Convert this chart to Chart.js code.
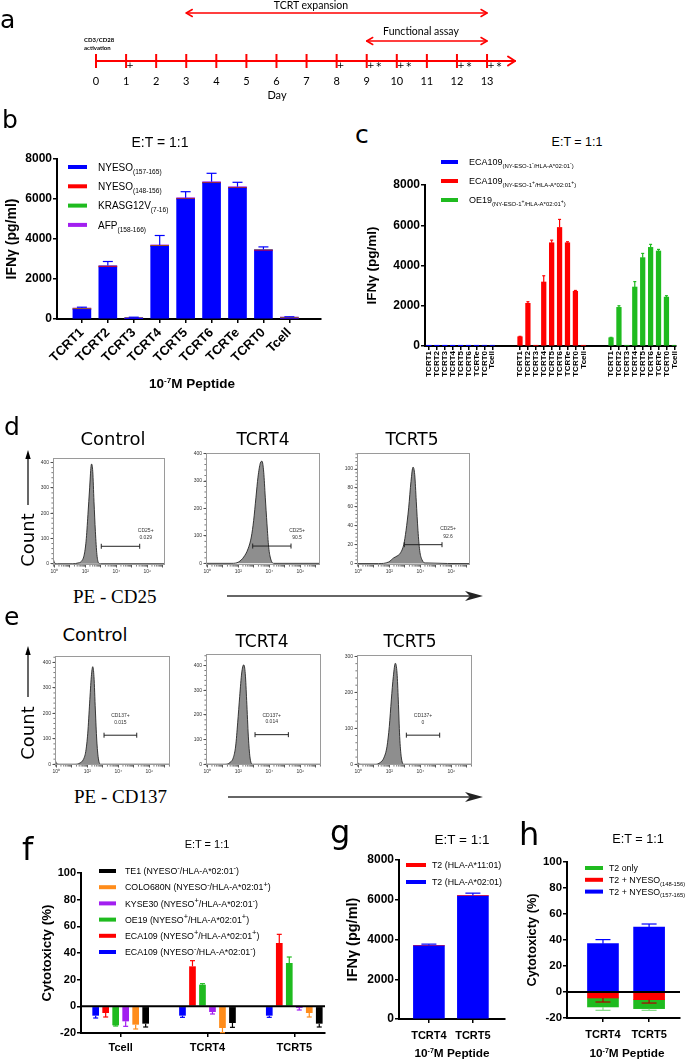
<!DOCTYPE html>
<html>
<head>
<meta charset="utf-8">
<title>TCRT figure</title>
<script src="https://cdn.jsdelivr.net/npm/chart.js@4.4.1/dist/chart.umd.min.js"></script>
<style>
  html, body { margin: 0; padding: 0; background: #fff; }
  body { position: relative; width: 685px; height: 1062px; overflow: hidden; }
  canvas { position: absolute; }
  .t { position: absolute; white-space: nowrap; line-height: 1; color: #000; }
  .t sup { font-size: 0.6em; position: relative; top: -0.55em; vertical-align: baseline; }
  svg { position: absolute; left: 0; top: 0; }
</style>
</head>
<body>
<svg width="685" height="1062">
  <g stroke="#000" stroke-width="1.2">
    <line x1="28" y1="505" x2="28" y2="456"/>
    <line x1="28" y1="697" x2="28" y2="652"/>
  </g>
  <g fill="#000">
    <polygon points="28,450 25.3,459 30.7,459"/>
    <polygon points="28,646 25.3,655 30.7,655"/>
  </g>
  <g stroke="#333" stroke-width="1.6">
    <line x1="227" y1="596" x2="472" y2="596"/>
    <line x1="228" y1="797" x2="472" y2="797"/>
  </g>
  <g fill="#222">
    <polygon points="483,596 465,591 470,596 465,601"/>
    <polygon points="483,797 465,792 470,797 465,802"/>
  </g>
</svg>
<script>
// ---- a: timeline
const days = [0, 1, 2, 3, 4, 5, 6, 7, 8, 9, 10, 11, 12, 13];
const plusDays = [1, 8, 9, 10, 12, 13];
const starDays = [9, 10, 12, 13];
const phaseNames = ['TCRT expansion', 'Functional assay'];
const phaseStart = [3, 9];
const phaseEnd = [13, 13];

// ---- b: IFNy by peptide
const tcrts = ['TCRT1', 'TCRT2', 'TCRT3', 'TCRT4', 'TCRT5', 'TCRT6', 'TCRTe', 'TCRT0', 'Tcell'];
const bNy157 = [480, 2600, 20, 3630, 5990, 6790, 6540, 3410, 30];
const bNy148 = [25, 30, 20, 30, 30, 30, 30, 30, 25];
const bKras = [15, 15, 15, 15, 15, 15, 15, 15, 15];
const bAfp = [30, 30, 25, 30, 30, 30, 30, 30, 30];
const bErr = [40, 200, 10, 470, 300, 420, 220, 120, 10];
const bSeries = ['NYESO_{(157-165)}', 'NYESO_{(148-156)}', 'KRASG12V_{(7-16)}', 'AFP_{(158-166)}'];

// ---- c: IFNy by target cell
const cEcaNeg = [10, 5, 5, 5, 5, 5, 20, 30, 30];
const cEcaPos = [460, 2120, 30, 3180, 5130, 5890, 5130, 2720, 30];
const cEcaPosErr = [20, 80, 0, 310, 130, 400, 50, 40, 0];
const cOe19 = [410, 1920, 30, 2930, 4390, 4900, 4720, 2430, 30];
const cOe19Err = [20, 80, 0, 270, 210, 150, 80, 70, 0];
const cSeries = ['ECA109_{(NY-ESO-1^{-}/HLA-A*02:01^{-})}', 'ECA109_{(NY-ESO-1^{+}/HLA-A*02:01^{+})}', 'OE19_{(NY-ESO-1^{+}/HLA-A*02:01^{+})}'];

// ---- d / e: flow histograms (x in decades, y in counts)
const histTicks = ['10⁰', '', '10²', '', '10⁴', '', '10⁶', ''];
const dCtrlX = [-0.08, 0.02, 0.2, 1.2, 1.53, 1.74, 1.92, 2.05, 2.17, 2.28, 2.37, 2.41, 2.48, 2.56, 2.65, 2.75, 2.86, 2.99, 7.1];
const dCtrlY = [22, 3, 0, 0, 3, 9, 33, 89, 194, 300, 385, 394, 365, 247, 128, 36, 3, 0, 0];
const dT4X = [-0.08, 1.59, 2.02, 2.35, 2.63, 2.84, 2.99, 3.14, 3.27, 3.42, 3.53, 3.64, 3.74, 3.85, 3.96, 4.09, 4.28, 7.25];
const dT4Y = [0, 0, 5, 23, 53, 96, 156, 241, 314, 365, 372, 332, 241, 144, 59, 16, 0, 0];
const dT5X = [-0.08, 1.31, 1.96, 2.28, 2.5, 2.71, 2.93, 3.08, 3.25, 3.4, 3.53, 3.64, 3.74, 3.85, 3.96, 4.11, 4.32, 7.2];
const dT5Y = [0, 0, 1.7, 6, 8, 11, 20, 35, 59, 87, 102, 94, 66, 35, 14, 4, 0.7, 0];
const dGateLo = [3.03, 2.93, 2.97];
const dGateHi = [5.51, 5.4, 5.4];
const dGateY = [69, 63, 20];
const dGatePct = ['0.029', '90.5', '92.6'];

const eCtrlX = [-0.08, 0.02, 0.2, 1.21, 1.53, 1.74, 1.9, 2.03, 2.15, 2.26, 2.35, 2.43, 2.52, 2.61, 2.71, 2.86, 7.3];
const eCtrlY = [17, 3, 0, 0, 5, 18, 50, 122, 240, 344, 383, 344, 213, 95, 24, 0, 0];
const eT4X = [-0.08, 1.14, 1.46, 1.68, 1.83, 1.96, 2.09, 2.22, 2.35, 2.45, 2.54, 2.65, 2.75, 2.9, 7.3];
const eT4Y = [0, 0, 7, 27, 74, 168, 275, 370, 403, 367, 259, 111, 30, 0, 0];
const eT5X = [-0.08, 0.02, 0.2, 1.1, 1.42, 1.64, 1.85, 2.0, 2.13, 2.26, 2.39, 2.5, 2.58, 2.67, 2.77, 2.93, 7.3];
const eT5Y = [8, 1, 0, 0, 5, 17, 49, 105, 179, 244, 281, 253, 179, 77, 21, 0, 0];
const eGateLo = [3.08, 3.08, 3.1];
const eGateHi = [5.19, 5.23, 5.25];
const eGateY = [114, 120, 81];
const eGatePct = ['0.015', '0.014', '0'];

// ---- f: cytotoxicity against cell lines
const fCats = ['Tcell', 'TCRT4', 'TCRT5'];
const fEcaNeg = [-7, -7, -7];          const fEcaNegErr = [1.75, 1.25, 1.25];
const fEcaPos = [-5, 30, 47.5];        const fEcaPosErr = [3, 4.25, 6.5];
const fOe19 = [-14.25, 16.25, 32.5];   const fOe19Err = [0.5, 0.75, 4.5];
const fKyse = [-11.25, -4.25, -1.25];  const fKyseErr = [3.75, 1.5, 1.5];
const fColo = [-13.75, -16.25, -5];    const fColoErr = [3.25, 3.5, 3];
const fTe1 = [-13, -12.5, -13];        const fTe1Err = [2.5, 3.25, 2.5];
const fSeries = ['ECA109 (NYESO^{-}/HLA-A*02:01^{-})', 'ECA109 (NYESO^{+}/HLA-A*02:01^{+})', 'OE19 (NYESO^{+}/HLA-A*02:01^{+})',
                 'KYSE30 (NYESO^{+}/HLA-A*02:01^{-})', 'COLO680N (NYESO^{-}/HLA-A*02:01^{+})', 'TE1 (NYESO^{-}/HLA-A*02:01^{-})'];

// ---- g: IFNy with T2
const gCats = ['TCRT4', 'TCRT5'];
const gA0201 = [3680, 6190];
const gA1101 = [20, 25];
const gErr = [67, 117];
const gSeries = ['T2 (HLA-A*02:01)', 'T2 (HLA-A*11:01)'];

// ---- h: cytotoxicity with T2
const h148 = [-4.6, -5.9];   const h148Err = [3.1, 2.6];
const hT2 = [-6.9, -6.9];    const hT2Err = [2.6, 1.3];
const h157 = [37.2, 50];     const h157Err = [3.1, 2.3];
const hSeries = ['T2 + NYESO_{(148-156)}', 'T2 only', 'T2 + NYESO_{(157-165)}'];

const BLUE = '#0000ff', RED = '#ff0000', GREEN = '#1fbb1f', PURPLE = '#a21ff0', ORANGE = '#ff8c1a', BLACK = '#000000';
const SANS = "'Liberation Sans', Arial, sans-serif";
const DJ = "'DejaVu Sans', sans-serif";
const SERIF = "'Liberation Serif', 'Times New Roman', serif";
const LATO = "Lato, 'Open Sans', sans-serif";

Chart.defaults.font.family = SANS;
Chart.defaults.color = '#000';

// text with _{sub} and ^{sup}
function drawRich(ctx, str, x, y, size, weight) {
  const runs = [], stack = [];
  let buf = '';
  const flush = () => { if (buf) { runs.push({ t: buf, lv: stack.slice() }); buf = ''; } };
  for (let i = 0; i < str.length; i++) {
    const c = str[i];
    if ((c === '_' || c === '^') && str[i + 1] === '{') { flush(); stack.push(c); i++; continue; }
    if (c === '}' && stack.length) { flush(); stack.pop(); continue; }
    buf += c;
  }
  flush();
  ctx.save();
  ctx.fillStyle = '#000'; ctx.textAlign = 'left'; ctx.textBaseline = 'alphabetic';
  runs.forEach(r => {
    let s = size, dy = 0;
    r.lv.forEach(l => {
      if (l === '_') { dy += s * 0.3; s *= 0.66; } else { dy -= s * 0.42; s *= 0.85; }
    });
    ctx.font = (weight || 'normal') + ' ' + s.toFixed(2) + 'px ' + SANS;
    ctx.fillText(r.t, x, y + dy);
    x += ctx.measureText(r.t).width;
  });
  ctx.restore();
}

function seg(ctx, x1, y1, x2, y2) { ctx.beginPath(); ctx.moveTo(x1, y1); ctx.lineTo(x2, y2); ctx.stroke(); }
function chevron(ctx, x, y, dir, len, half) {
  ctx.beginPath(); ctx.moveTo(x - dir * len, y - half); ctx.lineTo(x, y); ctx.lineTo(x - dir * len, y + half); ctx.stroke();
}

const timelinePlugin = {
  id: 'timeline',
  afterDatasetsDraw(chart, args, o) {
    if (!o.on) return;
    const ctx = chart.ctx, x = chart.scales.x, y0 = chart.scales.y.getPixelForValue(0);
    ctx.save();
    ctx.strokeStyle = '#f00'; ctx.lineCap = 'round'; ctx.lineJoin = 'round';
    ctx.lineWidth = 2;
    const xs = x.getPixelForValue(days[0]), xe = x.getPixelForValue(days[days.length - 1]) + 28;
    seg(ctx, xs, y0, xe, y0);
    chevron(ctx, xe, y0, 1, 7, 4.5);
    ctx.lineWidth = 1.5;
    phaseStart.forEach((s, i) => {
      const yy = o.phaseY[i], a = x.getPixelForValue(s), b = x.getPixelForValue(phaseEnd[i]);
      seg(ctx, a, yy, b, yy);
      chevron(ctx, a, yy, -1, 6, 3.5);
      chevron(ctx, b, yy, 1, 6, 3.5);
    });
    ctx.fillStyle = '#000'; ctx.textAlign = 'center'; ctx.textBaseline = 'middle';
    ctx.font = '9px ' + DJ;
    plusDays.forEach(d => ctx.fillText('+', x.getPixelForValue(d) + 4, y0 + 5));
    ctx.font = '10px ' + DJ;
    starDays.forEach(d => ctx.fillText('*', x.getPixelForValue(d) + 12, y0 + 6.5));
    ctx.restore();
  }
};

const zeroPlugin = {
  id: 'zeroLine',
  afterDatasetsDraw(chart, args, o) {
    if (!o.on) return;
    const ctx = chart.ctx, y = chart.scales.y.getPixelForValue(0), ca = chart.chartArea;
    ctx.save(); ctx.strokeStyle = '#000'; ctx.lineWidth = 2;
    seg(ctx, ca.left, y, ca.right, y);
    ctx.restore();
  }
};

const errPlugin = {
  id: 'errorBars',
  afterDatasetsDraw(chart) {
    const ctx = chart.ctx, ys = chart.scales.y, zero = ys.getPixelForValue(0);
    chart.data.datasets.forEach((ds, i) => {
      if (!ds.errors) return;
      const meta = chart.getDatasetMeta(i);
      meta.data.forEach((el, j) => {
        const e = ds.errors[j];
        if (!e) return;
        const up = ds.data[j].y >= 0;
        let y0 = el.y;
        if (ds.fromStackTop) {
          chart.data.datasets.forEach((d2, k) => {
            const el2 = chart.getDatasetMeta(k).data[j];
            if (el2 && (d2.data[j].y >= 0) === up) y0 = up ? Math.min(y0, el2.y) : Math.max(y0, el2.y);
          });
        }
        const len = Math.abs(zero - ys.getPixelForValue(e));
        const y1 = up ? y0 - len : y0 + len;
        const cw = (ds.capWidth || 6) / 2;
        ctx.save();
        ctx.strokeStyle = ds.errorColor || ds.backgroundColor; ctx.lineWidth = 1.2;
        seg(ctx, el.x, y0, el.x, y1);
        seg(ctx, el.x - cw, y1, el.x + cw, y1);
        ctx.restore();
      });
    });
  }
};

const legendPlugin = {
  id: 'richLegend',
  afterDraw(chart, args, o) {
    if (!o.order) return;
    const ctx = chart.ctx;
    o.order.forEach((idx, k) => {
      const ds = chart.data.datasets[idx];
      const x = o.x - o.ox, y = o.y - o.oy + k * o.dy;
      ctx.fillStyle = ds.backgroundColor;
      ctx.fillRect(x, y - o.h / 2, o.w, o.h);
      drawRich(ctx, ds.label, x + o.w + o.gap, y + o.size * 0.36, o.size);
    });
  }
};

const framePlugin = {
  id: 'frame',
  afterDraw(chart, args, o) {
    if (!o.on) return;
    const ctx = chart.ctx, ca = chart.chartArea, x = chart.scales.x, y = chart.scales.y;
    ctx.save();
    ctx.strokeStyle = '#9a9a9a'; ctx.lineWidth = 1;
    ctx.strokeRect(ca.left + 0.5, ca.top + 0.5, ca.right - ca.left - 1, ca.bottom - ca.top - 1);
    // minor ticks
    ctx.strokeStyle = '#444'; ctx.lineWidth = 0.7;
    ctx.beginPath();
    for (let d = -1; d < 8; d++) {
      for (let k = 2; k < 10; k++) {
        const v = d + Math.log10(k);
        if (v <= x.min || v >= x.max) continue;
        const px = x.getPixelForValue(v);
        ctx.moveTo(px, ca.bottom); ctx.lineTo(px, ca.bottom + 1.6);
      }
    }
    for (let v = 0; v <= y.max; v += o.ystep / 5) {
      const py = y.getPixelForValue(v);
      ctx.moveTo(ca.left, py); ctx.lineTo(ca.left - 1.6, py);
    }
    ctx.stroke();
    ctx.restore();
  }
};

const gatePlugin = {
  id: 'gate',
  afterDatasetsDraw(chart, args, o) {
    if (o.lo == null) return;
    const ctx = chart.ctx, x = chart.scales.x, y = chart.scales.y;
    const x1 = x.getPixelForValue(o.lo), x2 = x.getPixelForValue(o.hi), yy = y.getPixelForValue(o.y);
    ctx.save();
    ctx.strokeStyle = '#222'; ctx.lineWidth = 1;
    seg(ctx, x1, yy, x2, yy);
    seg(ctx, x1, yy - 2.5, x1, yy + 2.5);
    seg(ctx, x2, yy - 2.5, x2, yy + 2.5);
    ctx.fillStyle = '#333'; ctx.font = '5px ' + SANS; ctx.textAlign = 'center'; ctx.textBaseline = 'middle';
    const lx = o.atEnd ? x2 + 6 : (x1 + x2) / 2;
    ctx.fillText(o.name, lx, yy - o.d1);
    ctx.fillText(o.pct, lx, yy - o.d2);
    ctx.restore();
  }
};

Chart.register(timelinePlugin, zeroPlugin, errPlugin, legendPlugin, framePlugin, gatePlugin);

// canvas at box [l,t,r,b], plot area at plot [l,t,r,b] (page px)
function place(box, plot, cfg) {
  const cv = document.createElement('canvas');
  const w = box[2] - box[0], h = box[3] - box[1];
  cv.width = w; cv.height = h;
  cv.style.left = box[0] + 'px'; cv.style.top = box[1] + 'px';
  cv.style.width = w + 'px'; cv.style.height = h + 'px';
  document.body.appendChild(cv);
  const o = cfg.options;
  o.responsive = false;
  o.animation = false;
  o.devicePixelRatio = 1;
  o.layout = { autoPadding: false, padding: { top: plot[1] - box[1], right: box[2] - plot[2], bottom: 0, left: 0 } };
  o.scales.x.afterFit = s => { s.height = box[3] - plot[3]; };
  o.scales.y.afterFit = s => { s.width = plot[0] - box[0]; };
  o.plugins = Object.assign({ legend: { display: false }, tooltip: { enabled: false } }, o.plugins || {});
  if (o.plugins.richLegend) { o.plugins.richLegend.ox = box[0]; o.plugins.richLegend.oy = box[1]; }
  return new Chart(cv, cfg);
}

function yAxis(min, max, step, size, title, titleSize, titlePad) {
  return {
    type: 'linear', min, max,
    ticks: { stepSize: step, font: { size, weight: 'bold' }, color: '#000', padding: 1, callback: v => String(v) },
    grid: { drawOnChartArea: false, drawTicks: true, tickLength: 4, color: '#000', lineWidth: 1.5 },
    border: { color: '#000', width: 2 },
    title: { display: true, text: title, font: { size: titleSize, weight: 'bold' }, color: '#000', padding: { top: titlePad, bottom: 0 } }
  };
}

function xCat(min, max, positions, names, size, rot, pad) {
  const map = new Map(positions.map((p, i) => [p, names[i]]));
  return {
    type: 'linear', min, max, offset: false,
    afterBuildTicks: s => { s.ticks = positions.map(v => ({ value: v })); },
    ticks: { autoSkip: false, maxRotation: rot, minRotation: rot, font: { size, weight: 'bold' }, color: '#000', padding: pad,
      callback: v => (map.has(v) ? map.get(v) : '') },
    grid: { offset: false, drawOnChartArea: false, tickLength: 4, color: '#000', lineWidth: 1.5 },
    border: { color: '#000', width: 2 }
  };
}

const pts = (arr, pos) => arr.map((v, i) => ({ x: pos[i], y: v }));

// ---------- a ----------
place([0, 0, 685, 108], [20, 52, 540, 70], {
  type: 'scatter',
  data: { datasets: [{ data: days.map(d => ({ x: d, y: 0 })), pointStyle: 'line', pointRotation: 90, pointRadius: 7,
    pointBorderColor: '#f00', pointBorderWidth: 2 }] },
  options: {
    scales: {
      x: { type: 'linear', min: -2.527, max: 14.761,
        afterBuildTicks: s => { s.ticks = days.map(v => ({ value: v })); },
        ticks: { font: { size: 11, family: LATO }, color: '#000', padding: 5, maxRotation: 0, autoSkip: false },
        grid: { display: false, drawTicks: false }, border: { display: false } },
      y: { display: false, min: -1, max: 1 }
    },
    plugins: { timeline: { on: true, phaseY: [13, 41] } }
  }
});

// ---------- b ----------
const bPos = tcrts.map((_, i) => i);
place([0, 150, 340, 378], [57, 159, 321, 319], {
  type: 'bar',
  data: { datasets: [
    { label: bSeries[0], data: pts(bNy157, bPos), backgroundColor: BLUE, errors: bErr, fromStackTop: true, capWidth: 10, errorColor: BLUE },
    { label: bSeries[1], data: pts(bNy148, bPos), backgroundColor: RED },
    { label: bSeries[2], data: pts(bKras, bPos), backgroundColor: GREEN },
    { label: bSeries[3], data: pts(bAfp, bPos), backgroundColor: PURPLE }
  ] },
  options: {
    datasets: { bar: { barThickness: 18 } },
    scales: {
      x: Object.assign(xCat(-0.96, 9.22, bPos, tcrts, 13, 45, 2), { stacked: true }),
      y: Object.assign(yAxis(0, 8000, 2000, 12, 'IFNγ (pg/ml)', 14, 3.6), { stacked: true })
    },
    plugins: { richLegend: { order: [0, 1, 2, 3], x: 68, y: 167, dy: 19.3, w: 19, h: 4, gap: 11, size: 10 } }
  }
});

// ---------- c ----------
const cPos0 = tcrts.map((_, i) => i);
const cPos1 = tcrts.map((_, i) => 11.5 + i);
const cPos2 = tcrts.map((_, i) => 23 + i);
place([350, 150, 685, 385], [425, 185, 678, 346], {
  type: 'bar',
  data: { datasets: [
    { label: cSeries[0], data: pts(cEcaNeg, cPos0), backgroundColor: BLUE },
    { label: cSeries[1], data: pts(cEcaPos, cPos1), backgroundColor: RED, errors: cEcaPosErr, capWidth: 3 },
    { label: cSeries[2], data: pts(cOe19, cPos2), backgroundColor: GREEN, errors: cOe19Err, capWidth: 3 }
  ] },
  options: {
    datasets: { bar: { barThickness: 4.6, grouped: false } },
    scales: {
      x: xCat(-0.5, 31.2, cPos0.concat(cPos1, cPos2), tcrts.concat(tcrts, tcrts), 8, 90, 1),
      y: yAxis(0, 8000, 2000, 12, 'IFNγ (pg/ml)', 13.5, 13.9)
    },
    plugins: { richLegend: { order: [0, 1, 2], x: 441, y: 162, dy: 19, w: 17, h: 4, gap: 11, size: 9 } }
  }
});

// ---------- d / e ----------
function hist(box, plot, xs, ys, ymin, ymax, ystep, gate) {
  const xmax = (plot[2] - plot[0] - 1.3) / 15.5;
  return place(box, plot, {
    type: 'line',
    data: { datasets: [{ data: xs.map((v, i) => ({ x: v, y: ys[i] })), fill: 'origin', backgroundColor: '#8e8e8e',
      borderColor: '#262626', borderWidth: 0.9, pointRadius: 0, cubicInterpolationMode: 'monotone' }] },
    options: {
      scales: {
        x: { type: 'linear', min: -0.084, max: xmax,
          afterBuildTicks: s => { s.ticks = [0, 1, 2, 3, 4, 5, 6, 7].filter(v => v <= s.max).map(v => ({ value: v })); },
          ticks: { callback: v => histTicks[v], font: { size: 5 }, color: '#333', padding: 1.5, maxRotation: 0, autoSkip: false },
          grid: { drawOnChartArea: false, tickLength: 2.5, color: '#333', lineWidth: 0.8 }, border: { display: false } },
        y: { type: 'linear', min: ymin, max: ymax,
          afterBuildTicks: s => { const t = []; for (let v = 0; v <= ymax; v += ystep) t.push({ value: v }); s.ticks = t; },
          ticks: { font: { size: 5 }, color: '#333', padding: 1.5 },
          grid: { drawOnChartArea: false, tickLength: 2.5, color: '#333', lineWidth: 0.8 }, border: { display: false } }
      },
      plugins: { frame: { on: true, ystep }, gate }
    }
  });
}

hist([33, 448, 170, 582], [53, 458, 165, 565], dCtrlX, dCtrlY, -5, 418, 100,
  { lo: dGateLo[0], hi: dGateHi[0], y: dGateY[0], name: 'CD25+', pct: dGatePct[0], atEnd: true, d1: 15.6, d2: 8.3 });
hist([185, 445, 325, 582], [206, 453, 320, 565], dT4X, dT4Y, -6, 402, 100,
  { lo: dGateLo[1], hi: dGateHi[1], y: dGateY[1], name: 'CD25+', pct: dGatePct[1], atEnd: true, d1: 15.6, d2: 8.3 });
hist([336, 445, 475, 582], [357, 453, 470, 565], dT5X, dT5Y, -1.5, 117, 20,
  { lo: dGateLo[2], hi: dGateHi[2], y: dGateY[2], name: 'CD25+', pct: dGatePct[2], atEnd: true, d1: 15.6, d2: 8.3 });

hist([35, 648, 175, 782], [55, 656, 170, 765], eCtrlX, eCtrlY, -3, 425, 100,
  { lo: eGateLo[0], hi: eGateHi[0], y: eGateY[0], name: 'CD137+', pct: eGatePct[0], atEnd: false, d1: 19.3, d2: 12.6 });
hist([186, 648, 326, 782], [206, 654, 321, 765], eT4X, eT4Y, -3, 447, 100,
  { lo: eGateLo[1], hi: eGateHi[1], y: eGateY[1], name: 'CD137+', pct: eGatePct[1], atEnd: false, d1: 19.3, d2: 12.6 });
hist([336, 648, 477, 782], [357, 655, 472, 765], eT5X, eT5Y, -2, 304, 100,
  { lo: eGateLo[2], hi: eGateHi[2], y: eGateY[2], name: 'CD137+', pct: eGatePct[2], atEnd: false, d1: 19.3, d2: 12.6 });

// ---------- f ----------
const fPos = [0, 1, 2];
place([0, 855, 335, 1062], [81, 873, 325, 1033], {
  type: 'bar',
  data: { datasets: [
    { label: fSeries[0], data: pts(fEcaNeg, fPos), backgroundColor: BLUE, errors: fEcaNegErr, capWidth: 5 },
    { label: fSeries[1], data: pts(fEcaPos, fPos), backgroundColor: RED, errors: fEcaPosErr, capWidth: 5 },
    { label: fSeries[2], data: pts(fOe19, fPos), backgroundColor: GREEN, errors: fOe19Err, capWidth: 5 },
    { label: fSeries[3], data: pts(fKyse, fPos), backgroundColor: PURPLE, errors: fKyseErr, capWidth: 5 },
    { label: fSeries[4], data: pts(fColo, fPos), backgroundColor: ORANGE, errors: fColoErr, capWidth: 5 },
    { label: fSeries[5], data: pts(fTe1, fPos), backgroundColor: BLACK, errors: fTe1Err, capWidth: 5 }
  ] },
  options: {
    datasets: { bar: { categoryPercentage: 0.691, barPercentage: 0.67 } },
    scales: {
      x: xCat(-0.457, 2.354, fPos, fCats, 11, 0, 4),
      y: yAxis(-20, 100, 20, 11, 'Cytotoxicty (%)', 13.3, 39)
    },
    plugins: { zeroLine: { on: true }, richLegend: { order: [5, 4, 3, 2, 1, 0], x: 99, y: 871, dy: 16.2, w: 17, h: 4, gap: 9, size: 8.8 } }
  }
});

// ---------- g ----------
const gPos = [0, 1];
place([340, 845, 512, 1062], [399, 860, 505, 1019], {
  type: 'bar',
  data: { datasets: [
    { label: gSeries[0], data: pts(gA0201, gPos), backgroundColor: BLUE, errors: gErr, fromStackTop: true, capWidth: 15, errorColor: BLUE },
    { label: gSeries[1], data: pts(gA1101, gPos), backgroundColor: RED }
  ] },
  options: {
    datasets: { bar: { barThickness: 31 } },
    scales: {
      x: Object.assign(xCat(-0.68, 1.73, gPos, gCats, 11, 0, 6), { stacked: true }),
      y: Object.assign(yAxis(0, 8000, 2000, 12, 'IFNγ (pg/ml)', 14.5, 4.3), { stacked: true })
    },
    plugins: { richLegend: { order: [1, 0], x: 406, y: 865, dy: 17, w: 20, h: 4, gap: 6, size: 8.8 } }
  }
});

// ---------- h ----------
place([512, 845, 685, 1062], [567, 862, 680, 1018], {
  type: 'bar',
  data: { datasets: [
    { label: hSeries[0], data: pts(h148, gPos), backgroundColor: RED, errors: h148Err, capWidth: 15, errorColor: '#b00000' },
    { label: hSeries[1], data: pts(hT2, gPos), backgroundColor: GREEN, errors: hT2Err, capWidth: 15, errorColor: '#7fd87f' },
    { label: hSeries[2], data: pts(h157, gPos), backgroundColor: BLUE, errors: h157Err, capWidth: 15 }
  ] },
  options: {
    datasets: { bar: { barThickness: 31 } },
    scales: {
      x: Object.assign(xCat(-0.78, 1.67, gPos, gCats, 11, 0, 6), { stacked: true }),
      y: Object.assign(yAxis(-20, 100, 20, 11.4, 'Cytotoxicty (%)', 12.8, 12.3), { stacked: true })
    },
    plugins: { zeroLine: { on: true }, richLegend: { order: [1, 0, 2], x: 585, y: 868, dy: 11.8, w: 18, h: 4, gap: 6, size: 8.8 } }
  }
});

// ---------- text ----------
function txt(html, x, base, size, fam, opt) {
  opt = opt || {};
  const d = document.createElement('div');
  d.className = 't';
  d.innerHTML = html;
  d.style.fontFamily = fam;
  d.style.fontSize = size + 'px';
  d.style.fontWeight = opt.w || 'normal';
  d.style.left = x + 'px';
  if (opt.rot) {
    d.style.top = base + 'px';
    d.style.transform = 'translate(-50%,-50%) rotate(-90deg)';
  } else {
    d.style.top = (base - 0.85 * size) + 'px';
    if (opt.c) d.style.transform = 'translateX(-50%)';
  }
  document.body.appendChild(d);
}

[['a', 0, 28, 25], ['b', 2, 128, 25], ['c', 355, 143, 25], ['d', 4, 435, 25], ['e', 4, 625, 25],
 ['f', 22, 860, 32], ['g', 330, 843, 32], ['h', 519, 845, 32]].forEach(p => txt(p[0], p[1], p[2], p[3], DJ));

txt(phaseNames[0], 311, 8.5, 10.5, LATO, { c: true });
txt(phaseNames[1], 421, 35, 10.5, LATO, { c: true });
txt('Day', 277, 98.5, 11, LATO, { c: true });
txt('CD3/CD28', 84, 42.5, 6, LATO, { w: 'bold' });
txt('activation', 84, 50.5, 6, LATO, { w: 'bold' });

txt('E:T = 1:1', 160, 147, 14, SANS, { c: true });
txt('10<sup>-7</sup>M Peptide', 192, 388, 13.5, SANS, { c: true, w: 'bold' });
txt('E:T = 1:1', 577, 147, 12.5, SANS, { c: true });

txt('Control', 113, 445, 18, DJ, { c: true });
txt('TCRT4', 263, 445, 17, DJ, { c: true });
txt('TCRT5', 412, 445, 17, DJ, { c: true });
txt('Count', 28, 540, 18, DJ, { rot: true });
txt('PE - CD25', 73, 603, 19, SERIF);

txt('Control', 95, 641, 18, DJ, { c: true });
txt('TCRT4', 262, 647, 17, DJ, { c: true });
txt('TCRT5', 410, 647, 17, DJ, { c: true });
txt('Count', 28, 733, 18, DJ, { rot: true });
txt('PE - CD137', 74, 803, 19, SERIF);

txt('E:T = 1:1', 207, 848, 11, SANS, { c: true });
txt('E:T = 1:1', 462, 844, 13.5, SANS, { c: true });
txt('10<sup>-7</sup>M Peptide', 452, 1058, 11.8, SANS, { c: true, w: 'bold' });
txt('E:T = 1:1', 638, 844, 12.7, SANS, { c: true });
txt('10<sup>-7</sup>M Peptide', 627, 1058, 11.8, SANS, { c: true, w: 'bold' });
</script>
</body>
</html>
